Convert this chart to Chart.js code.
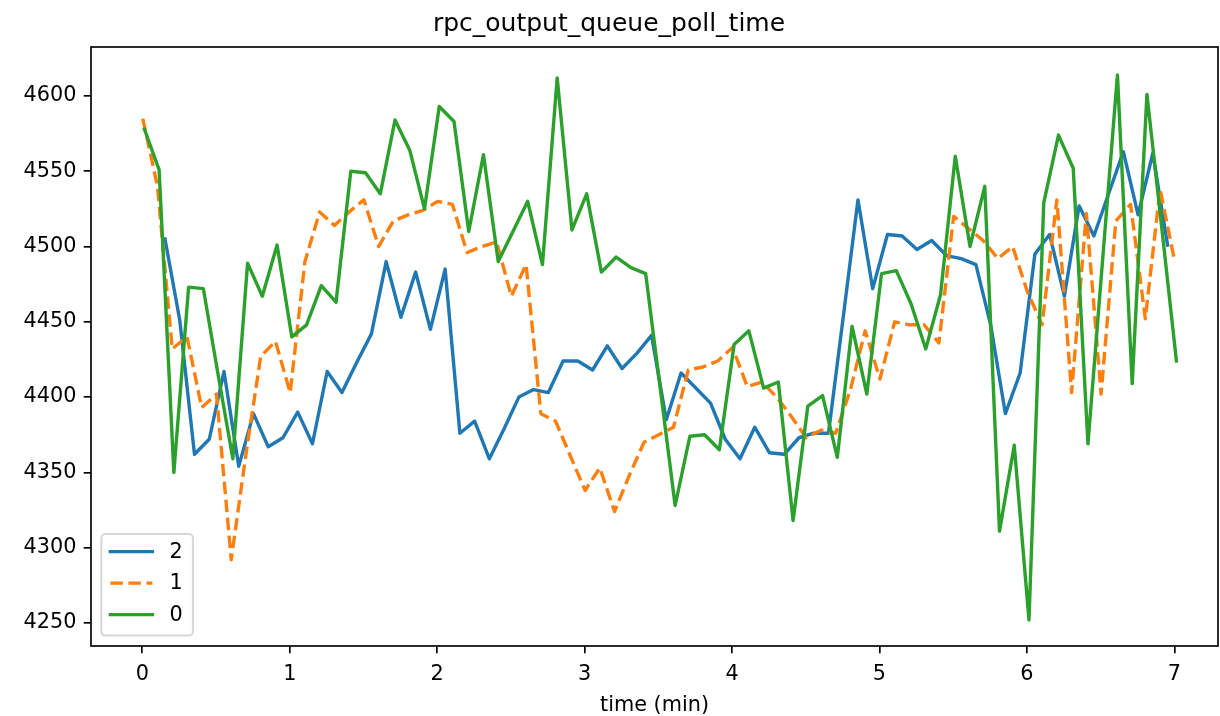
<!DOCTYPE html>
<html>
<head>
<meta charset="utf-8">
<script src="https://cdn.jsdelivr.net/npm/chart.js@4.4.1/dist/chart.umd.min.js"></script>
<style>
  html, body { margin: 0; padding: 0; background: #fff; }
  canvas { display: block; }
</style>
</head>
<body>
<canvas id="chart" width="1220" height="716"></canvas>
<script>
const chartTitle = 'rpc_output_queue_poll_time'
const xTitle = 'time (min)'
const xTicks = [0, 1, 2, 3, 4, 5, 6, 7]
const yTicks = [4250, 4300, 4350, 4400, 4450, 4500, 4550, 4600]

// series "2" (blue)
const times2 = [
  0.154, 0.254, 0.354, 0.454, 0.554, 0.654, 0.754, 0.854, 0.954,
  1.054, 1.154, 1.254, 1.354, 1.454, 1.554, 1.654, 1.754, 1.854, 1.954,
  2.054, 2.154, 2.254, 2.354, 2.454, 2.554, 2.654, 2.754, 2.854, 2.954,
  3.054, 3.154, 3.254, 3.354, 3.454, 3.554, 3.654, 3.754, 3.854, 3.954,
  4.054, 4.154, 4.254, 4.354, 4.454, 4.554, 4.654, 4.754, 4.854, 4.954,
  5.054, 5.154, 5.254, 5.354, 5.454, 5.554, 5.654, 5.754, 5.854, 5.954,
  6.054, 6.154, 6.254, 6.354, 6.454, 6.554, 6.654, 6.754, 6.854, 6.954
]
const values2 = [
  4505, 4451, 4362, 4372, 4417, 4354, 4389, 4367, 4373, 4390,
  4369, 4417, 4403, 4423, 4442, 4490, 4453, 4483, 4445, 4485,
  4376, 4384, 4359, 4379, 4400, 4405, 4403, 4424, 4424, 4418,
  4434, 4419, 4429, 4441, 4385, 4416, 4406, 4396, 4372, 4359,
  4380, 4363, 4362, 4373, 4376, 4376, 4453, 4531, 4472, 4508,
  4507, 4498, 4504, 4494, 4492, 4488, 4448, 4389, 4416, 4495,
  4508, 4467, 4527, 4507, 4535, 4563, 4521, 4562, 4501
]

// series "1" (orange, dashed)
const times1 = [
  0.003, 0.103, 0.203, 0.303, 0.403, 0.503, 0.603, 0.703, 0.803, 0.903,
  1.003, 1.103, 1.203, 1.303, 1.403, 1.503, 1.603, 1.703, 1.803, 1.903,
  2.003, 2.103, 2.203, 2.303, 2.403, 2.503, 2.603, 2.703, 2.803, 2.903,
  3.003, 3.103, 3.203, 3.303, 3.403, 3.503, 3.603, 3.703, 3.803, 3.903,
  4.003, 4.103, 4.203, 4.303, 4.403, 4.503, 4.603, 4.703, 4.803, 4.903,
  5.003, 5.103, 5.203, 5.303, 5.403, 5.503, 5.603, 5.703, 5.803, 5.903,
  6.003, 6.103, 6.203, 6.303, 6.403, 6.503, 6.603, 6.703, 6.803, 6.903,
  7.003
]
const values1 = [
  4585, 4540, 4432, 4440, 4393, 4402, 4292, 4362, 4427, 4437,
  4403, 4490, 4523, 4514, 4523, 4531, 4500, 4517, 4521, 4524,
  4530, 4528, 4496, 4500, 4503, 4467, 4488, 4389, 4384, 4361,
  4338, 4353, 4324, 4348, 4370, 4375, 4380, 4418, 4420, 4424,
  4433, 4407, 4410, 4400, 4387, 4373, 4378, 4376, 4405, 4444,
  4412, 4450, 4448, 4448, 4436, 4520, 4512, 4504, 4492, 4500,
  4470, 4448, 4531, 4403, 4522, 4402, 4517, 4528, 4452, 4538,
  4490
]

// series "0" (green)
const times0 = [
  0.014, 0.114, 0.214, 0.314, 0.414, 0.514, 0.614, 0.714, 0.814, 0.914,
  1.014, 1.114, 1.214, 1.314, 1.414, 1.514, 1.614, 1.714, 1.814, 1.914,
  2.014, 2.114, 2.214, 2.314, 2.414, 2.514, 2.614, 2.714, 2.814, 2.914,
  3.014, 3.114, 3.214, 3.314, 3.414, 3.514, 3.614, 3.714, 3.814, 3.914,
  4.014, 4.114, 4.214, 4.314, 4.414, 4.514, 4.614, 4.714, 4.814, 4.914,
  5.014, 5.114, 5.214, 5.314, 5.414, 5.514, 5.614, 5.714, 5.814, 5.914,
  6.014, 6.114, 6.214, 6.314, 6.414, 6.514, 6.614, 6.714, 6.814, 6.914,
  7.014
]
const values0 = [
  4578, 4551, 4350, 4473, 4472, 4415, 4359, 4489, 4467, 4501,
  4440, 4448, 4474, 4463, 4550, 4549, 4535, 4584, 4564, 4525,
  4593, 4583, 4510, 4561, 4490, 4510, 4530, 4488, 4612, 4511,
  4535, 4483, 4493, 4486, 4482, 4405, 4328, 4374, 4375, 4365,
  4435, 4444, 4406, 4410, 4318, 4394, 4401, 4360, 4447, 4402,
  4482, 4484, 4462, 4432, 4468, 4560, 4500, 4540, 4311, 4368,
  4252, 4529, 4574, 4552, 4369, 4492, 4614, 4409, 4601, 4513,
  4424
]

const FS = 20.8
const LW = 3.4
Chart.defaults.font.family = '"DejaVu Sans", sans-serif'
Chart.defaults.color = '#000'

const pts = (ts, vs) => ts.map((t, i) => ({ x: t, y: vs[i] }))

// top/right/left/bottom spines like matplotlib
const framePlugin = {
  id: 'frame',
  afterDatasetsDraw(chart) {
    const { ctx, chartArea: a } = chart
    ctx.save()
    ctx.strokeStyle = '#000'
    ctx.lineWidth = 1.67
    ctx.strokeRect(a.left, a.top, a.right - a.left, a.bottom - a.top)
    ctx.restore()
  }
}

// legend box in the lower-left corner of the plot
const boxLegend = {
  id: 'boxLegend',
  afterDraw(chart) {
    const { ctx, chartArea: a } = chart
    const sets = chart.data.datasets
    const w = 91.5, h = 101.5
    const x0 = a.left + 0.5 * FS
    const y0 = a.bottom - 0.5 * FS - h
    ctx.save()
    ctx.beginPath()
    ctx.roundRect(x0, y0, w, h, 4)
    ctx.fillStyle = 'rgba(255,255,255,0.8)'
    ctx.fill()
    ctx.strokeStyle = '#d6d6d6'
    ctx.lineWidth = 2
    ctx.stroke()
    ctx.font = `${FS}px "DejaVu Sans"`
    ctx.textBaseline = 'middle'
    ctx.textAlign = 'left'
    sets.forEach((d, i) => {
      const y = y0 + 17.5 + i * 31.5
      ctx.beginPath()
      ctx.setLineDash(d.borderDash || [])
      ctx.lineCap = d.borderCapStyle || 'butt'
      ctx.strokeStyle = d.borderColor
      ctx.lineWidth = LW
      ctx.moveTo(x0 + 9, y)
      ctx.lineTo(x0 + 51, y)
      ctx.stroke()
      ctx.setLineDash([])
      ctx.fillStyle = '#000'
      ctx.fillText(d.label, x0 + 68, y + 1)
    })
    ctx.restore()
  }
}

function init() {
  const ctx = document.getElementById('chart').getContext('2d')
  new Chart(ctx, {
    type: 'line',
    data: {
      datasets: [
        { label: '2', data: pts(times2, values2), borderColor: '#1f77b4', borderCapStyle: 'square', order: 3 },
        { label: '1', data: pts(times1, values1), borderColor: '#ff7f0e', borderDash: [12.5, 5.5], borderCapStyle: 'butt', order: 2 },
        { label: '0', data: pts(times0, values0), borderColor: '#2ca02c', borderCapStyle: 'square', order: 1 }
      ]
    },
    options: {
      responsive: false,
      animation: false,
      devicePixelRatio: 1,
      layout: { padding: { left: 0, right: 2, top: 0, bottom: 0 } },
      elements: {
        point: { radius: 0, hoverRadius: 0 },
        line: { borderWidth: LW, tension: 0, borderJoinStyle: 'round', fill: false }
      },
      plugins: {
        legend: { display: false },
        tooltip: { enabled: false },
        title: {
          display: true,
          text: chartTitle,
          color: '#000',
          font: { size: 25, weight: 'normal' },
          padding: { top: 9.5, bottom: 7.5 }
        }
      },
      scales: {
        x: {
          type: 'linear',
          min: -0.348,
          max: 7.296,
          afterFit: (s) => { s.height = 70 },
          afterBuildTicks: (s) => { s.ticks = xTicks.map(v => ({ value: v })) },
          border: { display: false },
          grid: { display: true, drawOnChartArea: false, drawTicks: true, tickLength: 7.3, color: '#000', lineWidth: 1.67 },
          ticks: { color: '#000', font: { size: FS }, padding: 8.5, maxRotation: 0, autoSkip: false, callback: (v) => String(v) },
          title: { display: true, text: xTitle, color: '#000', font: { size: FS }, padding: { top: 0, bottom: -2.5 } }
        },
        y: {
          type: 'linear',
          min: 4234.7,
          max: 4632.5,
          afterFit: (s) => { s.width = 91 },
          afterBuildTicks: (s) => { s.ticks = yTicks.map(v => ({ value: v })) },
          border: { display: false },
          grid: { display: true, drawOnChartArea: false, drawTicks: true, tickLength: 7.3, color: '#000', lineWidth: 1.67 },
          ticks: { color: '#000', font: { size: FS }, padding: 7.3, callback: (v) => String(v) }
        }
      }
    },
    plugins: [framePlugin, boxLegend]
  })
}

window.addEventListener('load', init)
</script>
</body>
</html>
